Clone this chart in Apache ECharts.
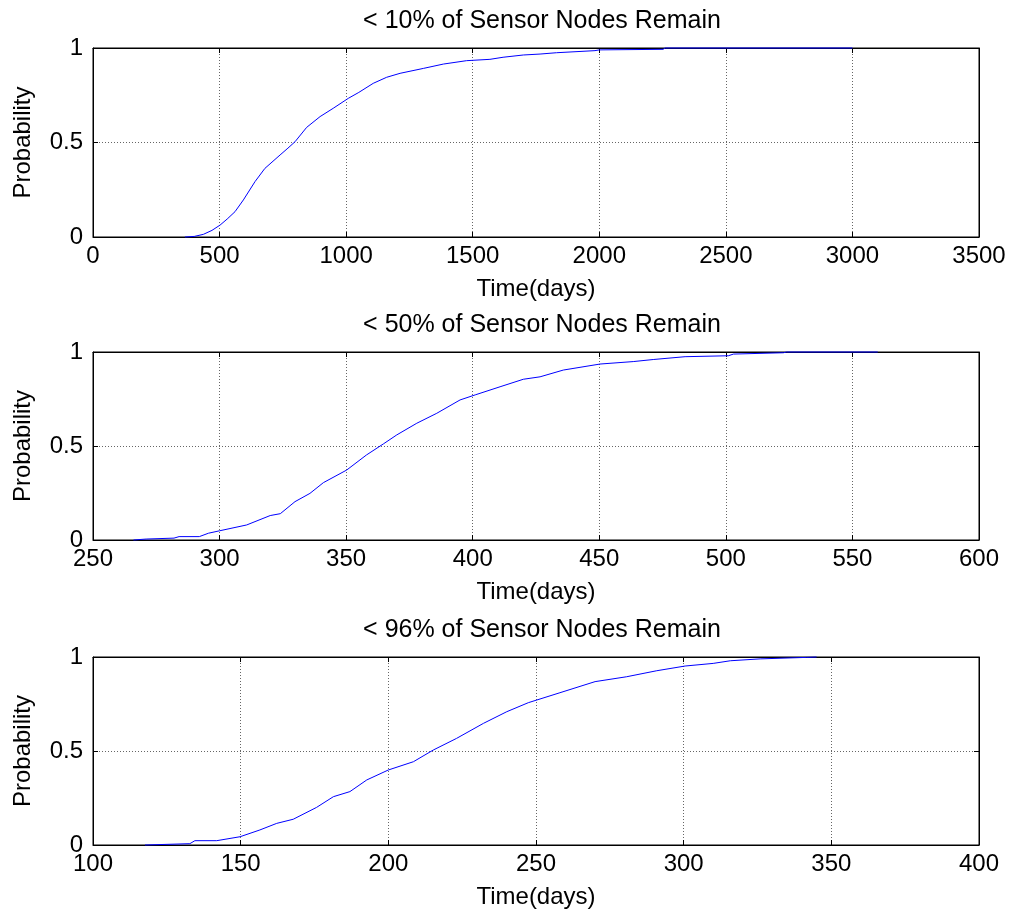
<!DOCTYPE html>
<html>
<head>
<meta charset="utf-8">
<script src="https://cdn.jsdelivr.net/npm/echarts@6/dist/echarts.min.js"></script>
<style>html,body{margin:0;padding:0;background:#fff}#c{width:1018px;height:916px}</style>
</head>
<body>
<div id="c"></div>
<script>
// ---- Data ----
const titles = ['< 10% of Sensor Nodes Remain', '< 50% of Sensor Nodes Remain', '< 96% of Sensor Nodes Remain'];
const xAxisName = 'Time(days)';
const yAxisName = 'Probability';

const xMin = [0, 250, 100];
const xMax = [3500, 600, 400];
const xStep = [500, 50, 50];

const days10 = [363, 400, 436, 470, 502, 530, 561, 594, 640, 679, 739, 770, 798, 844, 897, 949, 1009, 1050, 1107, 1160, 1213, 1305, 1384, 1476, 1568, 1620, 1700, 1766, 1831, 1983, 2000, 2252, 2260, 3000];
const prob10 = [0, 0.003, 0.014, 0.035, 0.063, 0.095, 0.134, 0.196, 0.293, 0.363, 0.434, 0.47, 0.504, 0.58, 0.637, 0.681, 0.734, 0.765, 0.813, 0.845, 0.866, 0.892, 0.915, 0.933, 0.94, 0.951, 0.963, 0.968, 0.975, 0.986, 0.99, 0.993, 1, 1];

const days50 = [266, 271, 282, 284, 292, 295.6, 300, 310.7, 320, 324, 329.8, 335.7, 341, 350.2, 358, 364.7, 370, 377.9, 385.8, 395, 401, 410.8, 420, 426.6, 435.8, 450.3, 463.4, 471.3, 483.9, 501, 503, 522.7, 524, 560];
const prob50 = [0, 0.005, 0.01, 0.018, 0.018, 0.036, 0.049, 0.08, 0.13, 0.14, 0.204, 0.248, 0.305, 0.372, 0.452, 0.511, 0.559, 0.621, 0.674, 0.745, 0.772, 0.815, 0.855, 0.868, 0.904, 0.936, 0.949, 0.96, 0.975, 0.98, 0.989, 0.996, 1, 1];

const days96 = [117.6, 118, 132.8, 134.5, 141.9, 149.8, 156.5, 162.2, 167.8, 175.7, 181.4, 187, 192.7, 200, 208.5, 215.2, 223.1, 232.2, 240.1, 247.4, 258.1, 270, 280.7, 290.9, 300.5, 310, 315.8, 325.9, 341.7, 345];
const prob96 = [0, 0.005, 0.007, 0.023, 0.023, 0.044, 0.08, 0.115, 0.137, 0.2, 0.257, 0.284, 0.346, 0.399, 0.443, 0.505, 0.567, 0.647, 0.709, 0.757, 0.81, 0.869, 0.895, 0.927, 0.952, 0.966, 0.98, 0.99, 0.998, 1];

const yTicks = [0, 0.5, 1];

// ---- Build chart ----
const FONT = '"Liberation Sans", Arial, Helvetica, sans-serif';
const FS = 24;
const TFS = 25;
const gridTops = [48, 352, 657];
const gridH = [189, 188, 188];
const dayArrays = [days10, days50, days96];
const probArrays = [prob10, prob50, prob96];

function zip(a, b) { return a.map((v, i) => [v, b[i]]); }

const option = {
  backgroundColor: '#fff',
  animation: false,
  title: [], grid: [], xAxis: [], yAxis: [], series: []
};

for (let i = 0; i < 3; i++) {
  option.title.push({
    text: titles[i], left: 537, top: gridTops[i] - 44, textAlign: 'center',
    textStyle: { fontFamily: FONT, fontSize: TFS, fontWeight: 'normal', color: '#000' }
  });
  option.grid.push({
    left: 93, width: 886, top: gridTops[i], height: gridH[i],
    show: true, borderColor: '#000', borderWidth: 1, backgroundColor: '#fff'
  });
  option.xAxis.push({
    type: 'value', gridIndex: i, min: xMin[i], max: xMax[i], interval: xStep[i],
    name: xAxisName, nameLocation: 'middle', nameGap: 40,
    nameTextStyle: { fontFamily: FONT, fontSize: FS, color: '#000' },
    axisLine: { show: true, onZero: false, lineStyle: { color: '#000', width: 1 } },
    axisTick: { show: true, inside: true, length: 5, lineStyle: { color: '#000' } },
    axisLabel: { fontFamily: FONT, fontSize: FS, color: '#000', margin: 7, formatter: v => String(v) },
    splitLine: { show: true, lineStyle: { color: '#666', type: [1, 2], width: 1 } }
  });
  option.xAxis.push({
    type: 'value', gridIndex: i, position: 'top', min: xMin[i], max: xMax[i], interval: xStep[i],
    axisLine: { show: true, onZero: false, lineStyle: { color: '#000', width: 1 } },
    axisTick: { show: true, inside: true, length: 5, lineStyle: { color: '#000' } },
    axisLabel: { show: false }, splitLine: { show: false }
  });
  option.yAxis.push({
    type: 'value', gridIndex: i, min: yTicks[0], max: yTicks[2], interval: yTicks[1] - yTicks[0],
    name: yAxisName, nameLocation: 'middle', nameGap: 58,
    nameTextStyle: { fontFamily: FONT, fontSize: FS, color: '#000' },
    axisLine: { show: true, onZero: false, lineStyle: { color: '#000', width: 1 } },
    axisTick: { show: true, inside: true, length: 5, lineStyle: { color: '#000' } },
    axisLabel: { fontFamily: FONT, fontSize: FS, color: '#000', margin: 10, formatter: v => String(v) },
    splitLine: { show: true, lineStyle: { color: '#666', type: [1, 2], width: 1 } }
  });
  option.yAxis.push({
    type: 'value', gridIndex: i, position: 'right', min: yTicks[0], max: yTicks[2], interval: yTicks[1] - yTicks[0],
    axisLine: { show: true, onZero: false, lineStyle: { color: '#000', width: 1 } },
    axisTick: { show: true, inside: true, length: 5, lineStyle: { color: '#000' } },
    axisLabel: { show: false }, splitLine: { show: false }
  });
  option.series.push({
    type: 'line', xAxisIndex: 2 * i, yAxisIndex: 2 * i,
    data: zip(dayArrays[i], probArrays[i]),
    showSymbol: false, symbol: 'none',
    lineStyle: { color: '#0000ff', width: 1 },
    clip: false
  });
}

const chart = echarts.init(document.getElementById('c'), null, { renderer: 'canvas' });
chart.setOption(option);
</script>
</body>
</html>
